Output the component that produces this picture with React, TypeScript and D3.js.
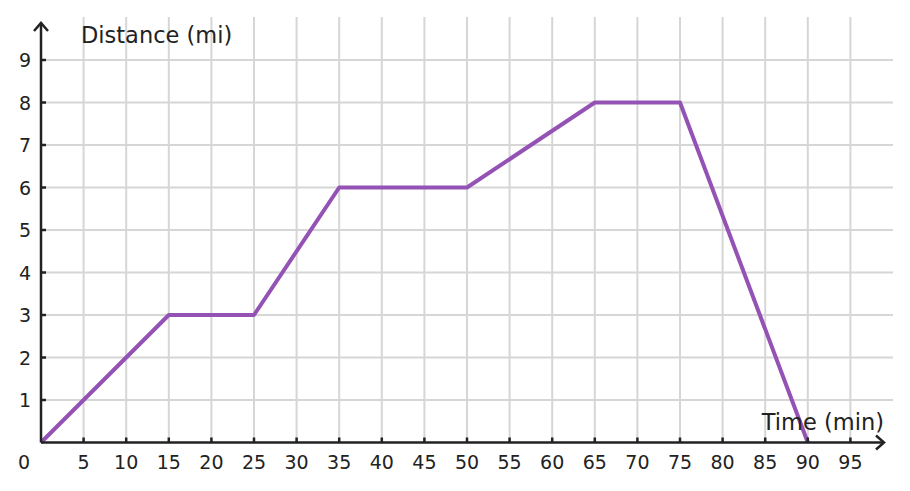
import React from "react";
import * as d3 from "d3";

const times = [0, 15, 25, 35, 50, 65, 75, 90];
const distances = [0, 3, 3, 6, 6, 8, 8, 0];
const xTicks = [5, 10, 15, 20, 25, 30, 35, 40, 45, 50, 55, 60, 65, 70, 75, 80, 85, 90, 95];
const yTicks = [1, 2, 3, 4, 5, 6, 7, 8, 9];
const xTitle = "Time (min)";
const yTitle = "Distance (mi)";

export default function App() {
  const W = 910, H = 491;
  const x0 = 41, y0 = 442.5;
  const x = d3.scaleLinear().domain([0, 5]).range([x0, x0 + 42.6]);
  const y = d3.scaleLinear().domain([0, 1]).range([y0, y0 - 42.5]);
  const gridTop = 17;
  const gridRight = 893;
  const line = d3.line<number>().x((_, i) => x(times[i])).y((d) => y(d));
  const font = "'DejaVu Sans', sans-serif";
  const ink = "#222";
  return (
    <svg width={W} height={H} style={{ position: "absolute", left: 0, top: 0 }}>
      <rect width={W} height={H} fill="#fff" />
      <g stroke="#d6d6d6" strokeWidth={2}>
        {xTicks.map((t) => (
          <line key={"gx" + t} x1={x(t)} x2={x(t)} y1={gridTop} y2={y0} />
        ))}
        {yTicks.map((t) => (
          <line key={"gy" + t} x1={x0} x2={gridRight} y1={y(t)} y2={y(t)} />
        ))}
      </g>
      <path d={line(distances) || ""} fill="none" stroke="#9452b5" strokeWidth={4} strokeLinejoin="round" />
      <g stroke={ink} strokeWidth={2.5}>
        <line x1={x0} x2={883} y1={y0} y2={y0} />
        <line x1={x0} x2={x0} y1={y0} y2={24} />
        {xTicks.map((t) => (
          <line key={"tx" + t} x1={x(t)} x2={x(t)} y1={y0} y2={y0 - 5} />
        ))}
        {yTicks.map((t) => (
          <line key={"ty" + t} x1={x0} x2={x0 + 5} y1={y(t)} y2={y(t)} />
        ))}
      </g>
      <path d={`M${876},${y0 - 7} L${884},${y0} L${876},${y0 + 7}`} fill="none" stroke={ink} strokeWidth={2.5} />
      <path d={`M${x0 - 7},${31} L${x0},${23} L${x0 + 7},${31}`} fill="none" stroke={ink} strokeWidth={2.5} />
      <g fontFamily={font} fontSize={19} fill={ink}>
        {xTicks.map((t) => (
          <text key={"lx" + t} x={x(t)} y={469} textAnchor="middle">{t}</text>
        ))}
        {yTicks.map((t) => (
          <text key={"ly" + t} x={31} y={y(t) + 7} textAnchor="end">{t}</text>
        ))}
        <text x={24} y={469} textAnchor="middle">0</text>
      </g>
      <text x={81} y={43} fontFamily={font} fontSize={22.5} fill={ink}>{yTitle}</text>
      <text x={884} y={430} fontFamily={font} fontSize={22.5} fill={ink} textAnchor="end">{xTitle}</text>
    </svg>
  );
}
